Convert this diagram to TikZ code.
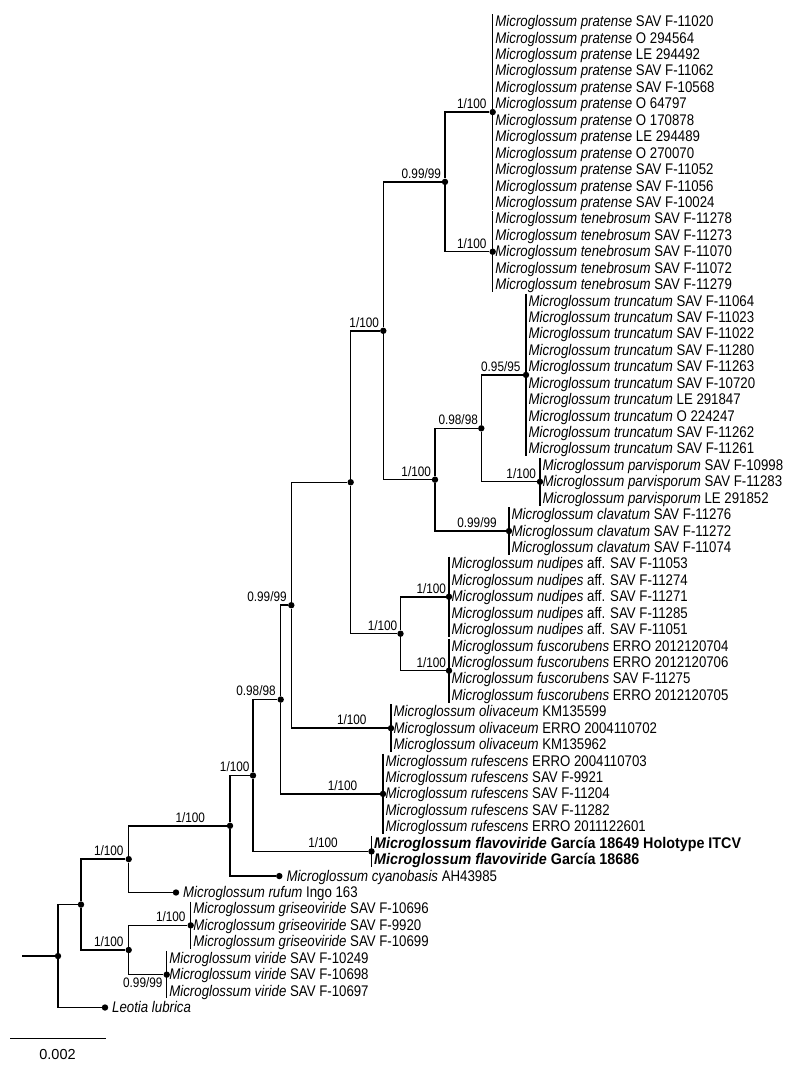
\documentclass[tikz,border=0pt]{standalone}
\usepackage{fontspec}
\setmainfont[FakeStretch=0.86]{Liberation Sans}
\newfontfamily\boldfam[FakeStretch=0.93]{Liberation Sans}
\newfontfamily\plainfam{Liberation Sans}
\tikzset{
  edge/.style={line width=1.5pt},
  bar/.style={line width=1.5pt},
  dot/.style={circle, fill=black, inner sep=0pt, minimum size=6.4pt},
  leaf/.style={anchor=base west, inner sep=0pt, yshift=-5pt, font=\fontsize{15.4}{18}\selectfont},
  lab/.style={anchor=base, inner sep=0pt, yshift=3.6pt, font=\fontsize{13.7}{16}\selectfont},
  labb/.style={anchor=base, inner sep=0pt, yshift=-13pt, font=\fontsize{13.7}{16}\selectfont},
}
\begin{document}
\begin{tikzpicture}[x=1pt,y=-16.43pt]
\useasboundingbox (0,-1.3207) rectangle (789,63.743);
% internal nodes
\node[dot] (P)  at (492.7,5.5) {};
\node[dot] (T)  at (492.7,14) {};
\node[dot] (K)  at (445,9.75) {};
\node[dot] (Tr) at (526,21.5) {};
\node[dot] (Pa) at (540,28) {};
\node[dot] (M)  at (481.3,24.75) {};
\node[dot] (Cl) at (509,31) {};
\node[dot] (L)  at (435,27.875) {};
\node[dot] (I)  at (383.3,18.8125) {};
\node[dot] (N)  at (449,35) {};
\node[dot] (Fu) at (449,39.5) {};
\node[dot] (J)  at (400.5,37.25) {};
\node[dot] (H)  at (350.7,28.03125) {};
\node[dot] (O)  at (391,43) {};
\node[dot] (G)  at (291.3,35.515625) {};
\node[dot] (Ru) at (383,47) {};
\node[dot] (F)  at (280.7,41.2578) {};
\node[dot] (Fl) at (371.5,50.5) {};
\node[dot] (E)  at (253,45.8789) {};
\node[dot] (Cy) at (279.3,52) {};
\node[dot] (D)  at (230,48.9395) {};
\node[dot] (Rf) at (176,53) {};
\node[dot] (B)  at (128.7,50.9697) {};
\node[dot] (Gr) at (190.7,55) {};
\node[dot] (V)  at (166.7,58) {};
\node[dot] (C)  at (128.7,56.5) {};
\node[dot] (A)  at (81,53.7349) {};
\node[dot] (Le) at (105,60) {};
\node[dot] (R)  at (58,56.8674) {};
\coordinate (stub) at (22,56.8674);
% edges
\draw[edge] (stub) -- (R);
\foreach \p/\c in {R/A,R/Le,A/B,A/C,B/D,B/Rf,D/E,D/Cy,E/F,E/Fl,F/G,F/Ru,G/H,G/O,H/I,H/J,I/K,I/L,K/P,K/T,L/M,L/Cl,M/Tr,M/Pa,J/N,J/Fu,C/Gr,C/V}
  \draw[edge] (\p) |- (\c);
% clade bars
\foreach \n/\x/\a/\b in {P/492.7/0/11, T/492.7/12/16, Tr/526/17/26, Pa/540/27/29, Cl/509/30/32, N/449/33/37, Fu/449/38/41, O/391/42/44, Ru/383/45/49, Fl/371.5/50/51, Gr/190.7/54/56, V/166.7/57/59}{
  \coordinate (\n top) at (\x,\a-0.45);
  \coordinate (\n bot) at (\x,\b+0.45);
  \draw[bar] (\n top) -- (\n bot);
}
% leaves
\foreach \s [count=\i from 0] in {SAV F-11020, O 294564, LE 294492, SAV F-11062, SAV F-10568, O 64797, O 170878, LE 294489, O 270070, SAV F-11052, SAV F-11056, SAV F-10024}
  \node[leaf] (lf\i) at (495.2,\i) {\textit{Microglossum pratense} \s};
\foreach \s [count=\i from 12] in {SAV F-11278, SAV F-11273, SAV F-11070, SAV F-11072, SAV F-11279}
  \node[leaf] (lf\i) at (495.2,\i) {\textit{Microglossum tenebrosum} \s};
\foreach \s [count=\i from 17] in {SAV F-11064, SAV F-11023, SAV F-11022, SAV F-11280, SAV F-11263, SAV F-10720, LE 291847, O 224247, SAV F-11262, SAV F-11261}
  \node[leaf] (lf\i) at (528.5,\i) {\textit{Microglossum truncatum} \s};
\foreach \s [count=\i from 27] in {SAV F-10998, SAV F-11283, LE 291852}
  \node[leaf] (lf\i) at (542.5,\i) {\textit{Microglossum parvisporum} \s};
\foreach \s [count=\i from 30] in {SAV F-11276, SAV F-11272, SAV F-11074}
  \node[leaf] (lf\i) at (511.5,\i) {\textit{Microglossum clavatum} \s};
\foreach \s [count=\i from 33] in {SAV F-11053, SAV F-11274, SAV F-11271, SAV F-11285, SAV F-11051}
  \node[leaf] (lf\i) at (451.5,\i) {\textit{Microglossum nudipes} aff. \s};
\foreach \s [count=\i from 38] in {ERRO 2012120704, ERRO 2012120706, SAV F-11275, ERRO 2012120705}
  \node[leaf] (lf\i) at (451.5,\i) {\textit{Microglossum fuscorubens} \s};
\foreach \s [count=\i from 42] in {KM135599, ERRO 2004110702, KM135962}
  \node[leaf] (lf\i) at (393.5,\i) {\textit{Microglossum olivaceum} \s};
\foreach \s [count=\i from 45] in {ERRO 2004110703, SAV F-9921, SAV F-11204, SAV F-11282, ERRO 2011122601}
  \node[leaf] (lf\i) at (385.5,\i) {\textit{Microglossum rufescens} \s};
\node[leaf] (lf50) at (374,50) {\boldfam\bfseries\textit{Microglossum flavoviride} García 18649 Holotype ITCV};
\node[leaf] (lf51) at (374,51) {\boldfam\bfseries\textit{Microglossum flavoviride} García 18686};
\node[leaf] (lf52) at (286.3,52) {\textit{Microglossum cyanobasis} AH43985};
\node[leaf] (lf53) at (183,53) {\textit{Microglossum rufum} Ingo 163};
\foreach \s [count=\i from 54] in {SAV F-10696, SAV F-9920, SAV F-10699}
  \node[leaf] (lf\i) at (193.2,\i) {\textit{Microglossum griseoviride} \s};
\foreach \s [count=\i from 57] in {SAV F-10249, SAV F-10698, SAV F-10697}
  \node[leaf] (lf\i) at (169.2,\i) {\textit{Microglossum viride} \s};
\node[leaf] (lf60) at (112,60) {\textit{Leotia lubrica}};
% support labels
\node[lab] (sP)  at (471.8,5.5) {1/100};
\node[lab] (sT)  at (471.8,14) {1/100};
\node[lab] (sK)  at (421.3,9.75) {0.99/99};
\node[lab] (sI)  at (364.2,18.8125) {1/100};
\node[lab] (sTr) at (500.8,21.5) {0.95/95};
\node[lab] (sM)  at (458.2,24.75) {0.98/98};
\node[lab] (sL)  at (416.2,27.875) {1/100};
\node[lab] (sPa) at (521.2,28) {1/100};
\node[lab] (sCl) at (477,31) {0.99/99};
\node[lab] (sJ)  at (382.5,37.25) {1/100};
\node[lab] (sN)  at (431.3,35) {1/100};
\node[lab] (sFu) at (431.3,39.5) {1/100};
\node[lab] (sO)  at (351.8,43) {1/100};
\node[lab] (sG)  at (267,35.515625) {0.99/99};
\node[lab] (sF)  at (256,41.2578) {0.98/98};
\node[lab] (sRu) at (342.5,47) {1/100};
\node[lab] (sE)  at (234.7,45.8789) {1/100};
\node[lab] (sFl) at (323,50.5) {1/100};
\node[lab] (sD)  at (190.3,48.9395) {1/100};
\node[lab] (sB)  at (108.8,50.9697) {1/100};
\node[lab] (sC)  at (108.8,56.5) {1/100};
\node[lab] (sGr) at (170.8,55) {1/100};
\node[labb] (sV) at (142.8,58) {0.99/99};
% scale bar
\coordinate (s1) at (10,61.899);
\coordinate (s2) at (106,61.899);
\draw[edge] (s1) -- (s2);
\node[anchor=base, inner sep=0pt, font=\plainfam\fontsize{14.5}{17}\selectfont] (scl) at (57.5,63.19) {0.002};
\end{tikzpicture}
\end{document}
